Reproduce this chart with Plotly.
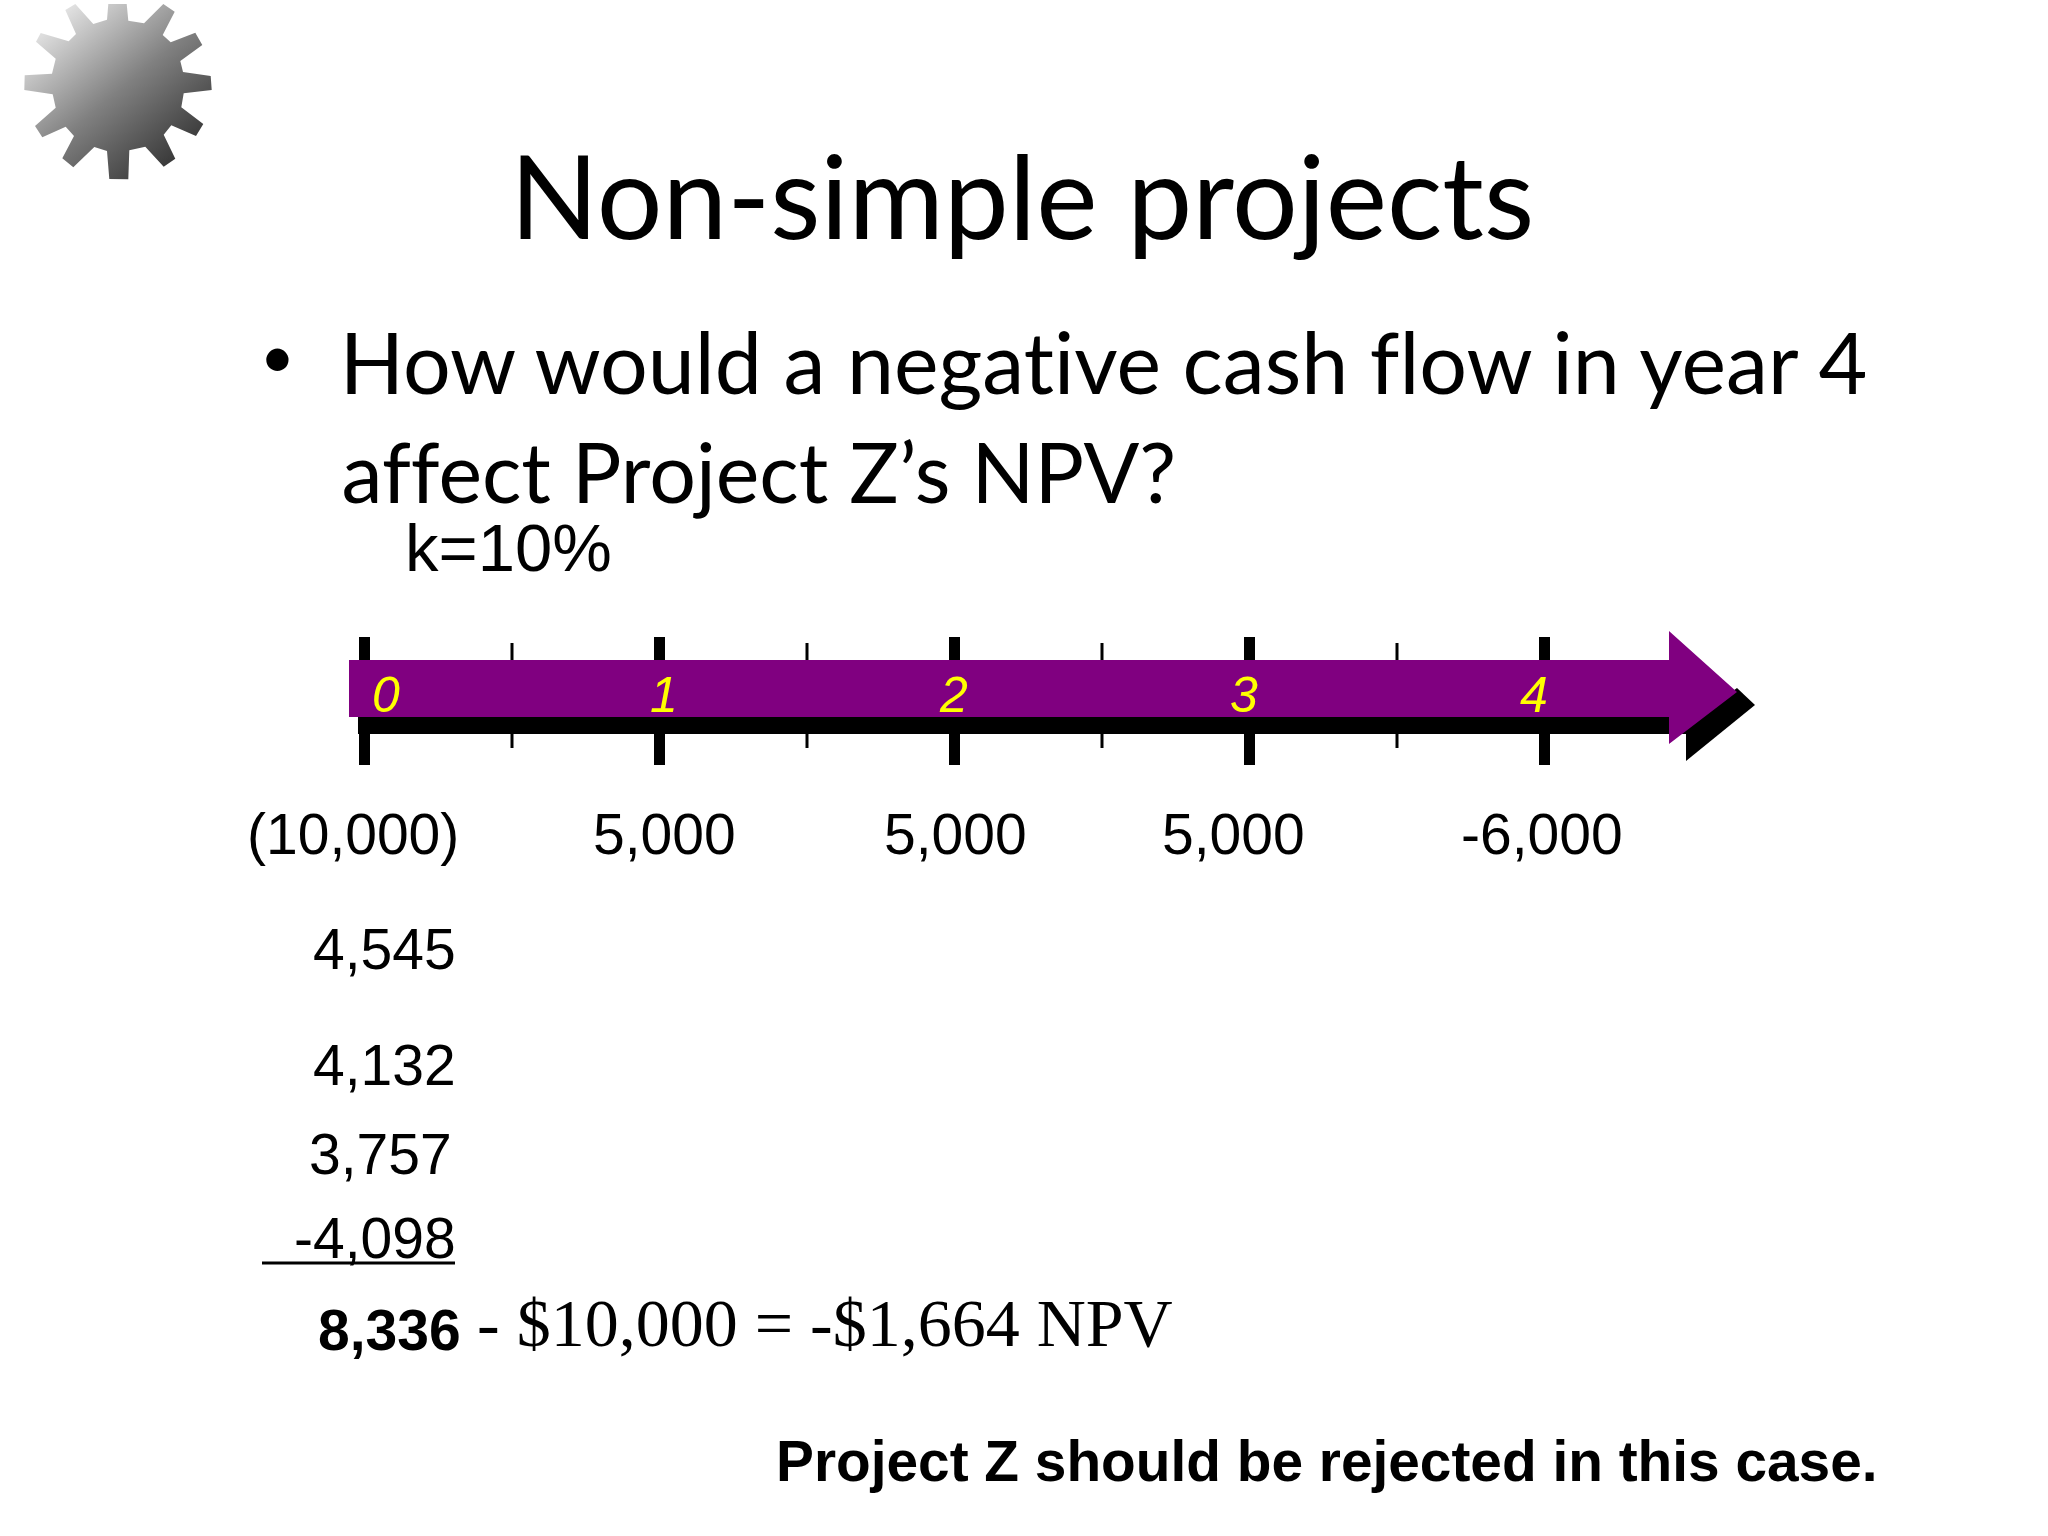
"""
Non-simple projects slide: cash flow time line with present values
"""

import base64

import plotly.graph_objects as go

WIDTH = 2048
HEIGHT = 1536

# chart data
years = [0, 1, 2, 3, 4]
half_years = [0.5, 1.5, 2.5, 3.5]
year_labels = ["0", "1", "2", "3", "4"]
cash_flows = ["(10,000)", "5,000", "5,000", "5,000", "-6,000"]
present_values = ["4,545", "4,132", "3,757", "-4,098"]
pv_total = "8,336"
npv_text = "- $10,000 = -$1,664 NPV"

SANS = "Liberation Sans"
SERIF = "Liberation Serif"
BODY = "Lato"
PURPLE = "#800080"


def fx(px):
    return px / WIDTH


def text(fig, s, x, y, size, family=SANS, color="black", anchor="left", ref="paper", xshift=0, bold=False):
    """Place text with its baseline at y (pixels from top)"""
    if bold:
        s = f"<b>{s}</b>"
    drop = 0.2 if family == BODY else 0.1
    fig.add_annotation(
        x=fx(x) if ref == "paper" else x,
        y=y,
        xref=ref,
        yref="y",
        text=s,
        showarrow=False,
        xanchor=anchor,
        yanchor="bottom",
        xshift=xshift,
        yshift=-drop * size,
        borderpad=0,
        font=dict(family=family, size=size, color=color),
    )


def poly(points, color):
    path = "M " + " L ".join(f"{fx(x):.5f} {y}" for x, y in points) + " Z"
    return dict(type="path", path=path, xref="paper", yref="y", fillcolor=color, line=dict(width=0), layer="above")


def tick_xy(positions, top, bottom):
    xs, ys = [], []
    for p in positions:
        xs += [p, p, None]
        ys += [top, bottom, None]
    return xs, ys


fig = go.Figure()

# tick marks on the time line
xs, ys = tick_xy(years, 637, 765)
fig.add_trace(go.Scatter(x=xs, y=ys, mode="lines", line=dict(color="black", width=11), hoverinfo="skip"))
xs, ys = tick_xy(half_years, 643, 748)
fig.add_trace(go.Scatter(x=xs, y=ys, mode="lines", line=dict(color="black", width=3), hoverinfo="skip"))

shapes = [
    # black shadow of the arrow
    poly([(358, 717), (1686, 717), (1686, 734), (358, 734)], "black"),
    poly([(1686, 725), (1737, 688), (1755, 705), (1686, 761)], "black"),
    # purple arrow
    poly([(349, 660), (1669, 660), (1669, 631), (1737, 692), (1669, 744), (1669, 717), (349, 717)], PURPLE),
    # underline below the last present value
    dict(type="line", xref="paper", yref="y", x0=fx(262), x1=fx(455), y0=1263, y1=1263, line=dict(color="black", width=3)),
]

# gear drawn as inline svg because shapes have no diagonal gradient
gear = [
    (325, 12), (380, 12), (385, 62), (432, 70), (490, 12), (524, 35), (488, 105), (512, 127),
    (586, 98), (607, 135), (541, 183), (549, 216), (632, 228), (635, 270), (551, 280), (544, 322),
    (610, 372), (588, 408), (514, 376), (491, 404), (526, 476), (491, 500), (436, 440), (388, 451),
    (385, 538), (328, 537), (321, 453), (283, 441), (220, 502), (187, 475), (222, 408), (197, 380),
    (127, 412), (105, 378), (167, 323), (158, 283), (73, 270), (74, 226), (156, 221), (167, 176),
    (108, 125), (122, 99), (206, 124), (228, 102), (196, 30), (226, 12), (280, 72), (321, 59),
]
gear_points = " ".join(f"{x / 3:.1f},{y / 3:.1f}" for x, y in gear)
svg = (
    '<svg xmlns="http://www.w3.org/2000/svg" width="400" height="300" viewBox="0 0 400 300">'
    '<defs><linearGradient id="g" x1="0.1" y1="0.05" x2="0.9" y2="0.95">'
    '<stop offset="0" stop-color="#eeeeee"/><stop offset="0.5" stop-color="#808080"/>'
    '<stop offset="1" stop-color="#2a2a2a"/></linearGradient></defs>'
    f'<polygon points="{gear_points}" fill="url(#g)"/></svg>'
)
gear_src = "data:image/svg+xml;base64," + base64.b64encode(svg.encode()).decode()

fig.update_layout(
    width=WIDTH,
    height=HEIGHT,
    margin=dict(l=0, r=0, t=0, b=0),
    paper_bgcolor="white",
    plot_bgcolor="rgba(0,0,0,0)",
    showlegend=False,
    shapes=shapes,
    xaxis=dict(visible=False, range=[-364.5 / 295, (WIDTH - 364.5) / 295]),
    yaxis=dict(visible=False, range=[HEIGHT, 0]),
    images=[
        dict(
            source=gear_src, xref="paper", yref="paper", x=0, y=1, sizex=400 / WIDTH, sizey=300 / HEIGHT,
            xanchor="left", yanchor="top", sizing="stretch", layer="above",
        )
    ],
)

# slide text
text(fig, "Non-simple projects", 1022, 242, 116, BODY, anchor="center")
text(fig, "•", 277, 380, 60, BODY, anchor="center")
text(fig, "How would a negative cash flow in year 4", 338, 396, 84.3, BODY)
text(fig, "affect Project Z’s NPV?", 342, 505, 82.5, BODY)
text(fig, "k=10%", 404, 579, 67)

# year numbers in the arrow and cash flows below it
for yr, lab, shift in zip(years, year_labels, [21, 4, -1, -6, -11]):
    text(fig, f"<i>{lab}</i>", yr, 719, 50, color="yellow", anchor="center", ref="x", xshift=shift)
for yr, cf, shift in zip(years, cash_flows, [-12, 5, 1, -16, -3]):
    text(fig, cf, yr, 861, 57, anchor="center", ref="x", xshift=shift)

# present values column, right aligned
pv_y = [976, 1092, 1181, 1265]
pv_x = [457, 457, 453, 457]
for pv, x, y in zip(present_values, pv_x, pv_y):
    text(fig, pv, x, y, 57, anchor="right")

text(fig, pv_total, 462, 1357, 57, anchor="right", bold=True)
text(fig, npv_text, 476, 1355, 68, SERIF)
text(fig, "Project Z should be rejected in this case.", 775, 1488, 56.8, bold=True)

# page margin off and no ti/fl ligatures, the slide font does not join them
page_js = """
document.body.style.margin = '0';
document.querySelectorAll('.annotation-text').forEach(function (t) {
    t.style.fontVariantLigatures = 'none';
});
"""

fig.write_html("out.html", post_script=page_js, config={"displayModeBar": False})
